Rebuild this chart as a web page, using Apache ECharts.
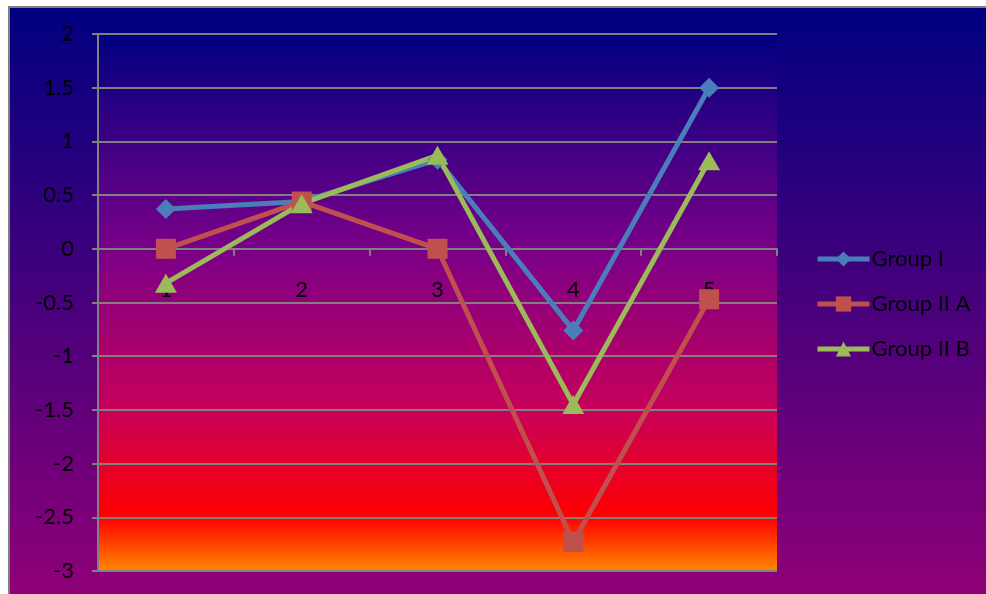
<!DOCTYPE html>
<html>
<head>
<meta charset="utf-8">
<script src="https://cdn.jsdelivr.net/npm/echarts@6/dist/echarts.min.js"></script>
<style>
  html, body { margin: 0; padding: 0; background: #ffffff; }
  #chart { width: 986px; height: 594px; }
</style>
</head>
<body>
<div id="chart"></div>
<script>
// Category positions along the x axis
const categories = ['1', '2', '3', '4', '5'];

// Series values
const groupI   = [0.37, 0.44, 0.83, -0.76, 1.50];
const groupIIA = [0.00, 0.44, 0.00, -2.73, -0.47];
const groupIIB = [-0.32, 0.42, 0.87, -1.45, 0.82];

const seriesNames = ['Group I', 'Group II A', 'Group II B'];

// Value axis range
const yMin = -3;
const yMax = 2;
const yStep = 0.5;

const fontFamily = 'Lato, "Open Sans", sans-serif';

const gridTop = 34;
const gridHeight = 537;
// the category axis crosses the value axis at zero
const xAxisOffset = -gridHeight * (0 - yMin) / (yMax - yMin);

const chart = echarts.init(document.getElementById('chart'), null, { renderer: 'canvas' });

function lineSeries(name, data, color, symbol, size) {
  return {
    name: name,
    type: 'line',
    data: data,
    symbol: symbol,
    symbolSize: size,
    showAllSymbol: true,
    lineStyle: { color: color, width: 5 },
    itemStyle: { color: color, borderWidth: 0 },
    emphasis: { disabled: true },
    animation: false
  };
}

chart.setOption({
  animation: false,
  graphic: [{
    type: 'rect',
    z: -10,
    silent: true,
    shape: { x: 9, y: 7, width: 990, height: 600 },
    style: {
      fill: new echarts.graphic.LinearGradient(0, 0, 0, 1, [
        { offset: 0, color: '#000080' },
        { offset: 1, color: '#920078' }
      ]),
      stroke: '#808080',
      lineWidth: 2
    }
  }],
  grid: {
    left: 98, top: gridTop, width: 679, height: gridHeight,
    outerBoundsMode: 'none',
    containLabel: false,
    show: true,
    borderWidth: 0,
    backgroundColor: new echarts.graphic.LinearGradient(0, 0, 0, 1, [
      { offset: 0, color: '#000080' },
      { offset: 0.40, color: '#7a0088' },
      { offset: 0.70, color: '#c8005a' },
      { offset: 0.90, color: '#ff0000' },
      { offset: 1, color: '#ff8800' }
    ])
  },
  legend: {
    orient: 'vertical',
    left: 810,
    top: 243,
    itemWidth: 52,
    itemHeight: 19,
    itemGap: 23,
    data: seriesNames,
    lineStyle: { width: 5 },
    textStyle: { color: '#000000', fontSize: 22, fontFamily: fontFamily, padding: [0, 0, 0, -3] },
    selectedMode: false
  },
  xAxis: {
    type: 'category',
    data: categories,
    boundaryGap: true,
    offset: xAxisOffset,
    axisLine: { onZero: false, lineStyle: { color: '#808080', width: 2 } },
    axisTick: { show: true, length: 7, inside: false, alignWithLabel: false, lineStyle: { color: '#808080', width: 2 } },
    axisLabel: { color: '#000000', fontSize: 22, fontFamily: fontFamily, margin: 30 },
    splitLine: { show: false }
  },
  yAxis: {
    type: 'value',
    min: yMin,
    max: yMax,
    interval: yStep,
    axisLine: { show: true, lineStyle: { color: '#808080', width: 2 } },
    axisTick: { show: true, length: 6, lineStyle: { color: '#808080', width: 2 } },
    axisLabel: { color: '#000000', fontSize: 22, fontFamily: fontFamily, margin: 24 },
    splitLine: { show: true, lineStyle: { color: '#808080', width: 2 } }
  },
  series: [
    lineSeries(seriesNames[0], groupI, '#4a7ebb', 'diamond', [20, 20]),
    lineSeries(seriesNames[1], groupIIA, '#c0504d', 'rect', 20),
    lineSeries(seriesNames[2], groupIIB, '#9bbb59', 'triangle', [22, 19])
  ]
});
</script>
</body>
</html>
